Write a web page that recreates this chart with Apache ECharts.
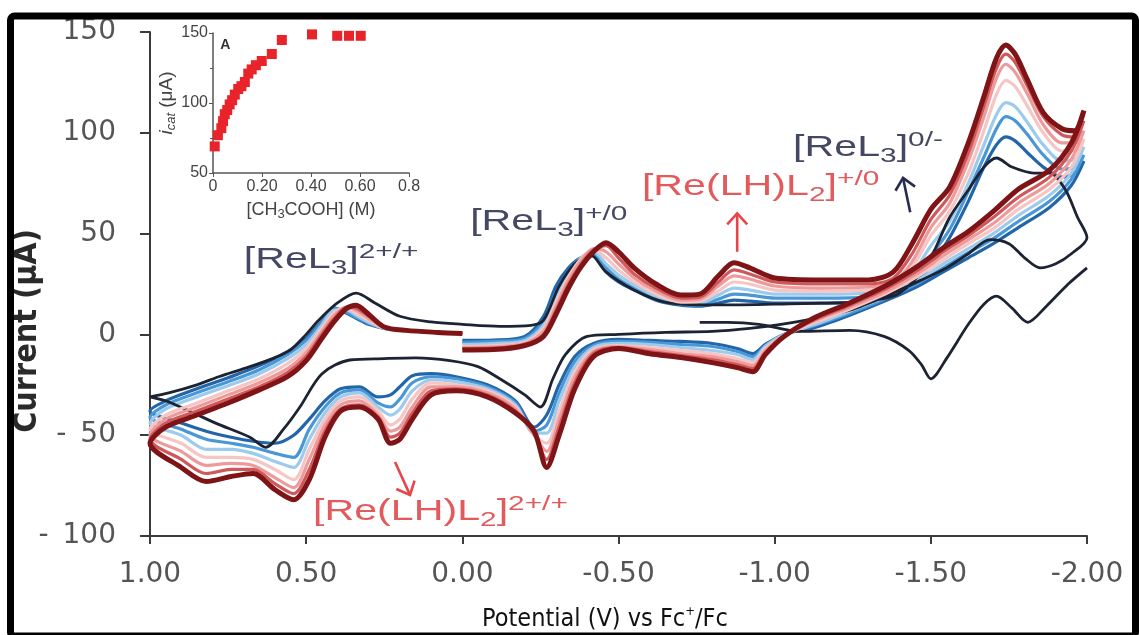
<!DOCTYPE html>
<html><head><meta charset="utf-8">
<script src="https://cdn.jsdelivr.net/npm/echarts/dist/echarts.min.js"></script>
<style>html,body{margin:0;padding:0;background:#fff}#c{width:1139px;height:635px}</style>
</head><body><div id="c"></div>
<script>
// ---- Main CV data: shared potential sweep (V vs Fc+/Fc), currents in µA ----
const potentialScan = [0.00,-0.10,-0.20,-0.26,-0.30,-0.34,-0.38,-0.42,-0.46,-0.50,-0.55,-0.62,-0.70,-0.76,-0.82,-0.87,-0.92,-1.00,-1.15,-1.30,-1.38,-1.44,-1.50,-1.56,-1.62,-1.67,-1.71,-1.74,-1.77,-1.81,-1.86,-1.92,-1.96,-1.99,
-1.95,-1.88,-1.78,-1.70,-1.62,-1.54,-1.46,-1.36,-1.24,-1.13,-1.03,-0.97,-0.93,-0.88,-0.80,-0.70,-0.60,-0.50,-0.42,-0.36,-0.31,-0.27,-0.23,-0.17,-0.08,0.02,0.10,0.16,0.20,0.23,0.27,0.33,0.39,0.44,0.49,0.54,0.60,0.67,0.74,0.82,0.90,1.00,
0.95,0.85,0.75,0.65,0.56,0.50,0.45,0.41,0.37,0.34,0.30,0.25,0.18,0.08,0.00];

const currentDarkRed = [-7.7,-7.5,-5.5,-1,10,23,33.5,41,45.5,41,33,25,19.5,20,29,35.5,33,28,27,27,31,45,62,73,95,118,137,143.5,139,126,110,102,101,111,
95,81.5,72,61,51,43,34,24.5,15.6,8.5,-1,-10,-18.5,-16.5,-14,-11.5,-9.6,-7,-11,-27,-50,-66,-48,-39,-31,-28,-30,-42,-52,-54,-42,-36,-38,-51,-72,-82,-77,-69,-70.5,-73,-66,-54,
-46,-40,-34,-27.5,-21,-13,-2,6.5,13,14.5,10,3.7,2,1,0.5];

const currentRed = [-7,-6.8,-5,0,12,25,35,42,44,38,30,23,18,18.5,26,32,30,26,25,25,28,40,57,69,90,113,132,139,135,123,108,99,98,106,
91,78,68,58,49,41,32,23,14.5,7.5,-1,-9,-17,-15,-12.5,-10.5,-8.5,-6.5,-9.5,-24,-46,-62,-49,-38,-30,-27,-28,-39,-49,-51,-41,-35,-37,-48,-67,-79,-74,-67,-67,-69,-62,-52,
-44,-38,-32,-26,-19,-11,0,8,13.5,13,9,3.5,2,1,0.5];

const currentPink = [-6.5,-6.2,-4.5,1.5,14,27,36.5,42.5,41,35,28,21.5,17,17.5,24,29,27.5,24,23,23.5,26,36,53,65,86,108,127,134,130,119,104,95,95,101,
87,75,65,55,47,39,30.5,21.5,13.5,7,-0.5,-8,-15.5,-13.5,-11,-9.5,-7.5,-6,-8.5,-21,-42,-58,-50,-37,-29,-26,-26,-36,-46,-48,-40,-33,-35,-45,-62,-76,-71,-65,-64,-65,-58,-50,
-42,-36,-30,-24,-17,-9,1.5,9.5,13.5,12,8,3.3,2,1,0.5];

const currentLightPink = [-6,-5.5,-4,3,16,28.5,37.5,42,38,32,26,20,16,16.5,21.5,26,25,22,21.5,22,24.5,33,49,61,80,101,119,126,123,113,100,91,91,97,
83,72,62,52.5,45,37,29,20.5,12.5,6,-0.5,-7,-14,-12,-9.5,-8,-6.5,-5.5,-7.5,-18.5,-38,-54,-50,-36,-28,-25,-24,-32,-42,-45,-38,-31,-33,-42,-57,-72,-67,-62,-61,-61,-54,-47,
-40,-34,-28,-22,-14.5,-7,3,11,13,10.5,7,3.1,2,1,0.5];

const currentLightBlue = [-5,-4.5,-3,4.5,18,30,38,41,35,29.5,24.5,19,15.5,15.5,19.5,23,22,20,20,20.5,23,30,44,56,75,94,109,115,113,105,94,86,87,93,
80,69,59,50,42.5,35,27,19,11.5,5,0,-6,-12.5,-10,-8,-6.5,-5,-4.5,-6.5,-16,-33,-49,-49,-35,-27,-23.5,-22.5,-28,-37,-40,-36,-29,-31,-39,-52,-66,-63,-59,-57,-57,-50,-44,
-37,-31,-25.5,-19.5,-12,-5,4.5,12,12,9.5,6,3,2,1,0.5];

const currentBlue = [-4,-3.5,-2,6.5,21,31.5,38,40,33,27.5,23,18,15,14.5,17.5,20,19.5,18,18,18.5,21,27,39,52,71,88,102,108,106,99,89,82,83,89,
77,66,56,47.5,40.5,33,25.5,18,10.5,4.5,0,-5.5,-11,-8.5,-6,-5,-4,-3.5,-5.5,-13.5,-29,-45,-48,-34,-26,-22,-21,-24,-32,-36,-34,-27.5,-29,-36,-47,-61,-59,-56,-54,-52,-47,-41,
-35,-29,-23.5,-17.5,-10,-3,6,13,11,8.5,5.5,3,2,1,0.5];

const currentDarkBlue = [-3,-2.8,-1,9,24,33,38,39,31,26,22,17,14.5,14,15.5,17,16.5,15.5,15.5,16,18.5,24,34,48,66,83,94,98,96,90,83,78,80,86,
74,63,53,45,38,31,24,17,9.5,3.5,0,-5,-9.5,-7,-4.5,-3.5,-3,-2.5,-4.5,-11,-25,-40,-46,-33,-25,-21,-19.5,-20.5,-26,-30,-31,-26,-27,-33,-42,-50,-54,-53,-51,-48,-44,-38,
-33,-27,-21.5,-15.5,-8.5,-2,6.5,13,10.5,8,5,3,2,1,0.5];

// black trace (no acid): main loop and second cathodic segment
const blackLoopPotential = [1.00,0.94,0.85,0.78,0.68,0.60,0.55,0.50,0.46,0.40,0.34,0.28,0.20,0.10,0.00,-0.12,-0.22,-0.26,-0.31,-0.36,-0.41,-0.46,-0.55,-0.65,-0.80,-1.00,-1.15,-1.30,-1.40,-1.49,-1.56,-1.62,-1.67,-1.71,-1.76,-1.83,-1.88,-1.93,-1.97,-2.00,-1.95,-1.90,-1.85,-1.80,-1.75,-1.69,-1.62,-1.55,-1.47,-1.35,-1.24,-1.13,-1.02,-0.92,-0.80,-0.65,-0.50,-0.40,-0.33,-0.29,-0.25,-0.20,-0.12,-0.05,0.04,0.15,0.25,0.36,0.45,0.52,0.57,0.63,0.68,0.79,0.94,1.00];
const blackLoopCurrent = [-31,-29,-25,-21,-16,-11.5,-7.7,0,7,15.6,20.5,15.6,9,6.2,5,4,4.5,7,24,35,39.4,31,22,16,14.6,15,15.5,16.5,20.5,35.4,58,71.6,83,87.5,83,80,80,72,58,48,40,35,33,38,45,47,40,33,27,18.6,12,8,5,3,1.5,1,0,-1,-10,-22,-36,-30,-22,-16,-13,-11.6,-12,-12.7,-19.6,-36,-46.5,-56,-51,-44,-33.5,-31];
const blackTailPotential = [-0.76,-0.85,-0.95,-1.08,-1.24,-1.35,-1.43,-1.47,-1.50,-1.55,-1.62,-1.67,-1.71,-1.76,-1.81,-1.87,-1.94,-2.00];
const blackTailCurrent = [6,6,5,1.5,2,-1,-8,-15,-22,-12,5,15,19,13,6,14,25,33];

// ---- Inset: catalytic current vs acid concentration ----
const acidConc = [0.007,0.02,0.034,0.041,0.048,0.058,0.068,0.078,0.089,0.103,0.116,0.130,0.144,0.158,0.175,0.199,0.240,0.281,0.404,0.507,0.555,0.603];
const icat = [69,77,82,87,92,95,99,102,106,110,112,115,121,124,127,130,135,145,149,148,148,148];
const insetXTickLabels = {0:'0', 0.2:'0.20', 0.4:'0.40', 0.6:'0.60', 0.8:'0.8'};

function pairs(E, I) { return E.map((e, k) => [e, I[k]]); }

const traces = [
  {name:'acid-1', I: currentDarkBlue,  color:'#2265a8', w:3.2},
  {name:'acid-2', I: currentBlue,      color:'#4a97d6', w:3.2},
  {name:'acid-3', I: currentLightBlue, color:'#9ccbee', w:3.2},
  {name:'acid-4', I: currentLightPink, color:'#f6c6c4', w:3.2},
  {name:'acid-5', I: currentPink,      color:'#ee9a9a', w:3.2},
  {name:'acid-6', I: currentRed,       color:'#d0575a', w:3.2},
  {name:'acid-7', I: currentDarkRed,   color:'#7e1416', w:5}
];

const series = [];
traces.slice(0,3).forEach(t => series.push({type:'line', name:t.name, data:pairs(potentialScan, t.I), showSymbol:false, smooth:0.3, silent:true, lineStyle:{color:t.color, width:t.w}}));
series.push({type:'line', name:'none-a', data:pairs(blackLoopPotential, blackLoopCurrent), showSymbol:false, smooth:0.3, silent:true, lineStyle:{color:'#1c2333', width:2.8}});
series.push({type:'line', name:'none-b', data:pairs(blackTailPotential, blackTailCurrent), showSymbol:false, smooth:0.3, silent:true, lineStyle:{color:'#1c2333', width:2.8}});
traces.slice(3).forEach(t => series.push({type:'line', name:t.name, data:pairs(potentialScan, t.I), showSymbol:false, smooth:0.3, silent:true, lineStyle:{color:t.color, width:t.w}}));
series.push({type:'scatter', xAxisIndex:1, yAxisIndex:1, data:pairs(acidConc, icat), symbol:'rect', symbolSize:10, itemStyle:{color:'#e8242a', opacity:1}, silent:true});

const axisGray = '#3b3b3b';
const chart = echarts.init(document.getElementById('c'), null, {renderer:'canvas'});
chart.setOption({
  backgroundColor:'#ffffff',
  animation:false,
  grid:[{left:150, top:32, right:52, bottom:99}, {left:213, top:33, width:196, height:140}],
  xAxis:[
    {gridIndex:0, type:'value', min:-2, max:1, interval:0.5, inverse:true,
     axisLine:{onZero:false, lineStyle:{color:axisGray, width:2}},
     axisTick:{length:8, lineStyle:{color:axisGray, width:2}},
     splitLine:{show:false},
     axisLabel:{margin:25, fontSize:28, color:'#555', fontFamily:'DejaVu Sans', formatter:v => v.toFixed(2)}},
    {gridIndex:1, type:'value', min:0, max:0.8, interval:0.2,
     axisLine:{onZero:false, lineStyle:{color:'#555', width:1.5}},
     axisTick:{length:4, lineStyle:{color:'#555'}},
     splitLine:{show:false},
     axisLabel:{margin:6, fontSize:16, color:'#444', fontFamily:'Liberation Sans', formatter:v => insetXTickLabels[Math.round(v*10)/10] ?? ''},
     name:'[CH{sub|3}COOH] (M)', nameLocation:'middle', nameGap:26,
     nameTextStyle:{fontSize:18, color:'#444', fontFamily:'Liberation Sans', lineHeight:22,
       rich:{sub:{fontSize:13, lineHeight:13, verticalAlign:'bottom', color:'#444', fontFamily:'Liberation Sans'}}}}
  ],
  yAxis:[
    {gridIndex:0, type:'value', min:-100, max:150, interval:50,
     axisLine:{onZero:false, lineStyle:{color:axisGray, width:2}},
     axisTick:{length:10, lineStyle:{color:axisGray, width:2}},
     splitLine:{show:false},
     axisLabel:{margin:34, fontSize:28, color:'#555', fontFamily:'DejaVu Sans', formatter:v => v < 0 ? '-\u2002' + Math.abs(v) : String(v)}},
    {gridIndex:1, type:'value', min:50, max:150, interval:50,
     axisLine:{lineStyle:{color:'#555', width:1.5}},
     axisTick:{length:4, lineStyle:{color:'#555'}},
     minorTick:{show:true, splitNumber:2, length:3, lineStyle:{color:'#555'}},
     splitLine:{show:false},
     axisLabel:{margin:5, fontSize:16, color:'#444', fontFamily:'Liberation Sans'},
     name:'{i|i}{c|cat} (μA)', nameLocation:'middle', nameGap:34, nameRotate:90,
     nameTextStyle:{fontSize:19, color:'#444', fontFamily:'Liberation Sans', lineHeight:22,
       rich:{i:{fontSize:19, fontStyle:'italic', lineHeight:22, color:'#444', fontFamily:'Liberation Sans'},
             c:{fontSize:13, fontStyle:'italic', lineHeight:13, verticalAlign:'bottom', color:'#444', fontFamily:'Liberation Sans'}}}}
  ],
  series
});

// ---- annotations (anchored in data coordinates) ----
const navy = '#454863', salmon = '#e25a5c';
function rich(color) {
  const f = "'Liberation Sans',Arial,sans-serif";
  return {
    m:{fontSize:29, lineHeight:37, verticalAlign:'middle', fill:color, fontFamily:f},
    s:{fontSize:21, lineHeight:21, verticalAlign:'bottom', fill:color, fontFamily:f},
    p:{fontSize:21, lineHeight:21, verticalAlign:'top', fill:color, fontFamily:f}
  };
}
const annotations = [
  {at:[0.70, 37],    text:'{m|[ReL}{s|3}{m|]}{p|2+/+}', color:navy},
  {at:[-0.025, 55.8], text:'{m|[ReL}{s|3}{m|]}{p|+/0}', color:navy},
  {at:[-0.575, 73.2], text:'{m|[Re(LH)L}{s|2}{m|]}{p|+/0}', color:salmon},
  {at:[-1.059, 92.5], text:'{m|[ReL}{s|3}{m|]}{p|0/-}', color:navy},
  {at:[0.478, -88],  text:'{m|[Re(LH)L}{s|2}{m|]}{p|2+/+}', color:salmon}
];
const arrows = [
  {from:[-0.88, 41], to:[-0.88, 60], color:'#e8454a'},
  {from:[-1.434, 60.6], to:[-1.411, 77.6], color:'#262b52'},
  {from:[0.2155, -63.3], to:[0.1675, -79.6], color:'#e8454a'}
];
const condensed = "'Liberation Sans Narrow','DejaVu Sans Condensed','Liberation Sans',sans-serif";
const g = [];
g.push({type:'rect', shape:{x:10.5, y:16, width:1125, height:620, r:4}, style:{fill:'none', stroke:'#000', lineWidth:7}, z:100});
// axis titles
g.push({type:'text', x:28, y:331, rotation:Math.PI/2, z:50,
  style:{text:'Current (μA)', fontSize:32, fontWeight:'bold', fill:'#2a2a2a', fontFamily:condensed, align:'center', verticalAlign:'middle'}});
g.push({type:'text', x:605, y:619, z:50,
  style:{text:'Potential (V) vs Fc{sup|+}/Fc', fontSize:25, fill:'#111', fontFamily:condensed, align:'center', verticalAlign:'middle', lineHeight:28,
    rich:{sup:{fontSize:13, lineHeight:13, verticalAlign:'top', fill:'#111', fontFamily:condensed}}}});
annotations.forEach(a => {
  const p = chart.convertToPixel({gridIndex:0}, a.at);
  g.push({type:'text', x:p[0], y:p[1], scaleX:1.42, z:50, style:{text:a.text, rich:rich(a.color), align:'left', verticalAlign:'middle', fill:a.color, fontSize:29}});
});
arrows.forEach(a => {
  const s = chart.convertToPixel({gridIndex:0}, a.from), e = chart.convertToPixel({gridIndex:0}, a.to);
  const dx = e[0]-s[0], dy = e[1]-s[1], L = Math.hypot(dx, dy), ux = dx/L, uy = dy/L, hl = 11, hw = 10;
  g.push({type:'line', z:50, shape:{x1:s[0], y1:s[1], x2:e[0], y2:e[1]}, style:{stroke:a.color, lineWidth:2.6}});
  g.push({type:'polyline', z:50, shape:{points:[[e[0]-ux*hl-uy*hw, e[1]-uy*hl+ux*hw],[e[0],e[1]],[e[0]-ux*hl+uy*hw, e[1]-uy*hl-ux*hw]]}, style:{stroke:a.color, lineWidth:2.6, fill:null}});
});
const pa = chart.convertToPixel({gridIndex:1}, [0.05, 141]);
g.push({type:'text', x:pa[0], y:pa[1], z:50, style:{text:'A', fontSize:14, fontWeight:'bold', fill:'#333', align:'center', verticalAlign:'middle', fontFamily:'Liberation Sans'}});
chart.setOption({graphic:g});
</script>
</body></html>
